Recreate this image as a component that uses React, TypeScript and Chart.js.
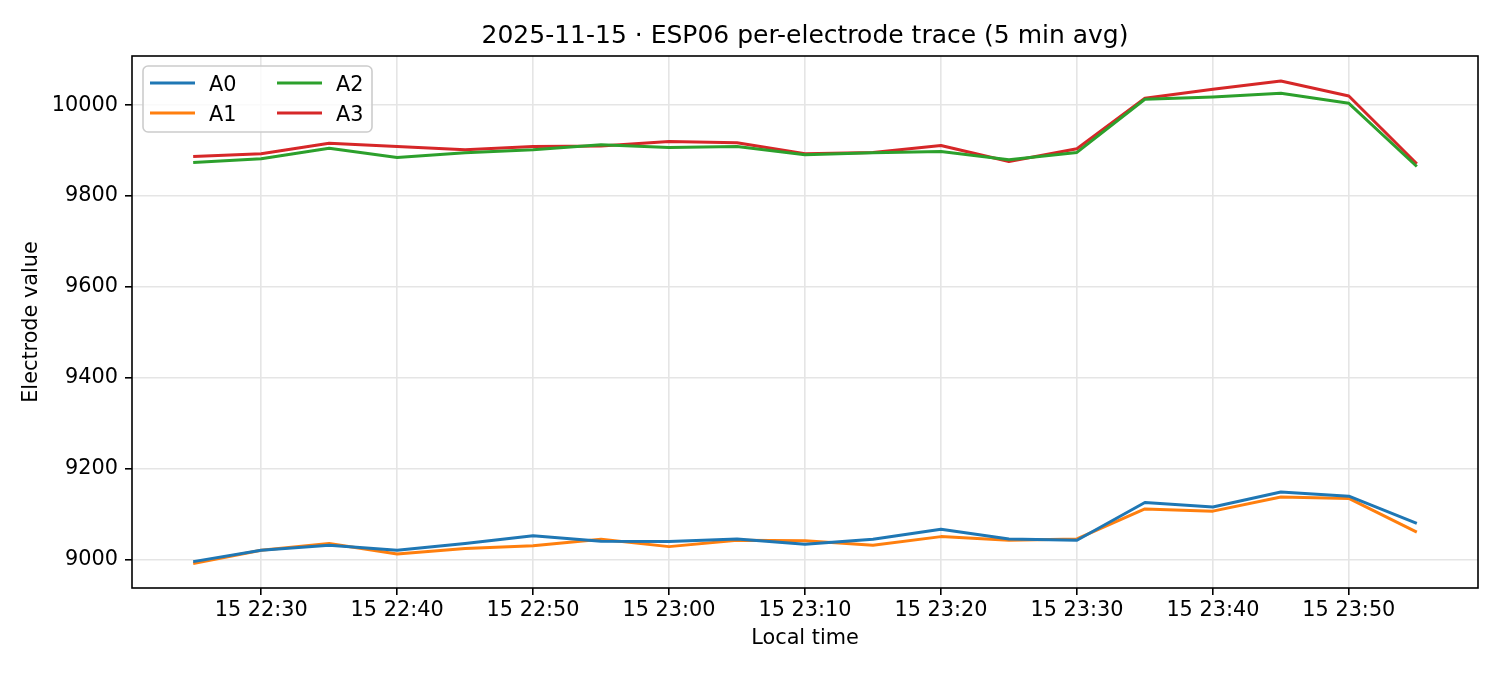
import { useEffect, useRef } from 'react';
import { Chart, registerables } from 'chart.js';

Chart.register(...registerables);

const FONT = "'DejaVu Sans', 'Liberation Sans', sans-serif";
const TITLE = '2025-11-15 · ESP06 per-electrode trace (5 min avg)';
const DAY_PREFIX = '15';

// 5 minute buckets, local time
const timeLabels = [
  '22:25', '22:30', '22:35', '22:40', '22:45', '22:50', '22:55', '23:00', '23:05', '23:10',
  '23:15', '23:20', '23:25', '23:30', '23:35', '23:40', '23:45', '23:50', '23:55'
];

const a0 = [8996, 9021, 9032, 9021, 9036, 9053, 9041, 9040, 9046, 9034, 9045, 9067, 9046, 9043, 9126, 9116, 9149, 9140, 9080];
const a1 = [8992, 9021, 9036, 9013, 9025, 9031, 9045, 9029, 9043, 9042, 9032, 9051, 9043, 9046, 9112, 9107, 9138, 9135, 9061];
const a2 = [9874, 9882, 9905, 9885, 9895, 9902, 9913, 9907, 9909, 9891, 9895, 9898, 9880, 9896, 10013, 10018, 10026, 10004, 9865];
const a3 = [9887, 9893, 9916, 9909, 9902, 9909, 9910, 9920, 9917, 9893, 9896, 9911, 9876, 9904, 10015, 10035, 10053, 10020, 9871];

const seriesNames = ['A0', 'A1', 'A2', 'A3'];
const seriesColors = ['#1f77b4', '#ff7f0e', '#2ca02c', '#d62728'];

const xTickLabels = ['22:30', '22:40', '22:50', '23:00', '23:10', '23:20', '23:30', '23:40', '23:50'];
const yTicks = [9000, 9200, 9400, 9600, 9800, 10000];

// minutes since 22:00
const toMinutes = (t: string): number => {
  const [h, m] = t.split(':').map(Number);
  return (h - 22) * 60 + m;
};
const fromMinutes = (v: number): string => {
  const h = 22 + Math.floor(v / 60);
  const m = Math.round(v % 60);
  return `${DAY_PREFIX} ${h}:${String(m).padStart(2, '0')}`;
};

const frameAndLegend = {
  id: 'frameAndLegend',
  afterDraw(chart: any) {
    const { ctx, chartArea: a } = chart;
    ctx.save();

    // spines
    ctx.strokeStyle = '#000';
    ctx.lineWidth = 1.6;
    ctx.strokeRect(a.left, a.top, a.right - a.left, a.bottom - a.top);

    // title, centred on the axes
    ctx.fillStyle = '#000';
    ctx.font = `25px ${FONT}`;
    ctx.textAlign = 'center';
    ctx.textBaseline = 'alphabetic';
    ctx.fillText(TITLE, (a.left + a.right) / 2, 43);

    // legend, two columns filled top to bottom
    const bx = a.left + 11;
    const by = a.top + 10;
    const bw = 229;
    const bh = 66;
    ctx.beginPath();
    ctx.roundRect(bx, by, bw, bh, 5);
    ctx.fillStyle = 'rgba(255,255,255,0.8)';
    ctx.fill();
    ctx.strokeStyle = '#cccccc';
    ctx.lineWidth = 1.6;
    ctx.stroke();

    ctx.font = `20.8px ${FONT}`;
    ctx.textAlign = 'left';
    chart.data.datasets.forEach((ds: any, i: number) => {
      const col = Math.floor(i / 2);
      const row = i % 2;
      const x = bx + 7 + col * 127;
      const y = by + 17 + row * 30;
      ctx.strokeStyle = ds.borderColor;
      ctx.lineWidth = 3;
      ctx.beginPath();
      ctx.moveTo(x, y);
      ctx.lineTo(x + 45, y);
      ctx.stroke();
      ctx.fillStyle = '#000';
      ctx.fillText(ds.label, x + 59, y + 8);
    });

    ctx.restore();
  }
};

const App = () => {
  const canvasRef = useRef<HTMLCanvasElement | null>(null);
  const chartRef = useRef<Chart | null>(null);

  useEffect(() => {
    document.body.style.margin = '0';
    if (!canvasRef.current) return;
    const ctx = canvasRef.current.getContext('2d') as CanvasRenderingContext2D;

    const xs = timeLabels.map(toMinutes);
    const series = [a0, a1, a2, a3];

    if (chartRef.current) chartRef.current.destroy();

    chartRef.current = new Chart(ctx, {
      type: 'line',
      data: {
        datasets: series.map((values, i) => ({
          label: seriesNames[i],
          data: values.map((v, j) => ({ x: xs[j], y: v })),
          borderColor: seriesColors[i],
          backgroundColor: seriesColors[i],
          borderWidth: 3,
          borderJoinStyle: 'round',
          pointRadius: 0,
          tension: 0,
          fill: false
        }))
      },
      options: {
        responsive: false,
        devicePixelRatio: 1,
        animation: false,
        layout: { padding: { top: 56, right: 22, left: 0, bottom: 0 } },
        plugins: {
          legend: { display: false },
          title: { display: false },
          tooltip: { enabled: false }
        },
        scales: {
          x: {
            type: 'linear',
            min: 20.5,
            max: 119.5,
            afterFit: (scale: any) => {
              scale.height = 87;
            },
            afterBuildTicks: (scale: any) => {
              scale.ticks = xTickLabels.map((t) => ({ value: toMinutes(t) }));
            },
            border: { display: false },
            grid: {
              color: '#e5e5e5',
              lineWidth: 1.6,
              tickColor: '#000',
              tickWidth: 1.6,
              tickLength: 7
            },
            ticks: {
              color: '#000',
              padding: 3,
              maxRotation: 0,
              autoSkip: false,
              font: { family: FONT, size: 20.8 },
              callback: (v: any) => fromMinutes(Number(v))
            },
            title: {
              display: true,
              text: 'Local time',
              color: '#000',
              font: { family: FONT, size: 20.8 },
              padding: { top: 0, bottom: 24 }
            }
          },
          y: {
            type: 'linear',
            min: 8938,
            max: 10108,
            afterFit: (scale: any) => {
              scale.width = 132;
            },
            afterBuildTicks: (scale: any) => {
              scale.ticks = yTicks.map((v) => ({ value: v }));
            },
            border: { display: false },
            grid: {
              color: '#e5e5e5',
              lineWidth: 1.6,
              tickColor: '#000',
              tickWidth: 1.6,
              tickLength: 7
            },
            ticks: {
              color: '#000',
              padding: 7,
              autoSkip: false,
              font: { family: FONT, size: 20.8 },
              callback: (v: any) => String(v)
            },
            title: {
              display: true,
              text: 'Electrode value',
              color: '#000',
              font: { family: FONT, size: 20.8 },
              padding: { top: 19, bottom: 0 }
            }
          }
        }
      },
      plugins: [frameAndLegend]
    } as any);

    return () => {
      if (chartRef.current) {
        chartRef.current.destroy();
        chartRef.current = null;
      }
    };
  }, []);

  return (
    <div style={{ width: 1500, height: 675, background: '#fff' }}>
      <canvas ref={canvasRef} width={1500} height={675} />
    </div>
  );
};

export default App;
